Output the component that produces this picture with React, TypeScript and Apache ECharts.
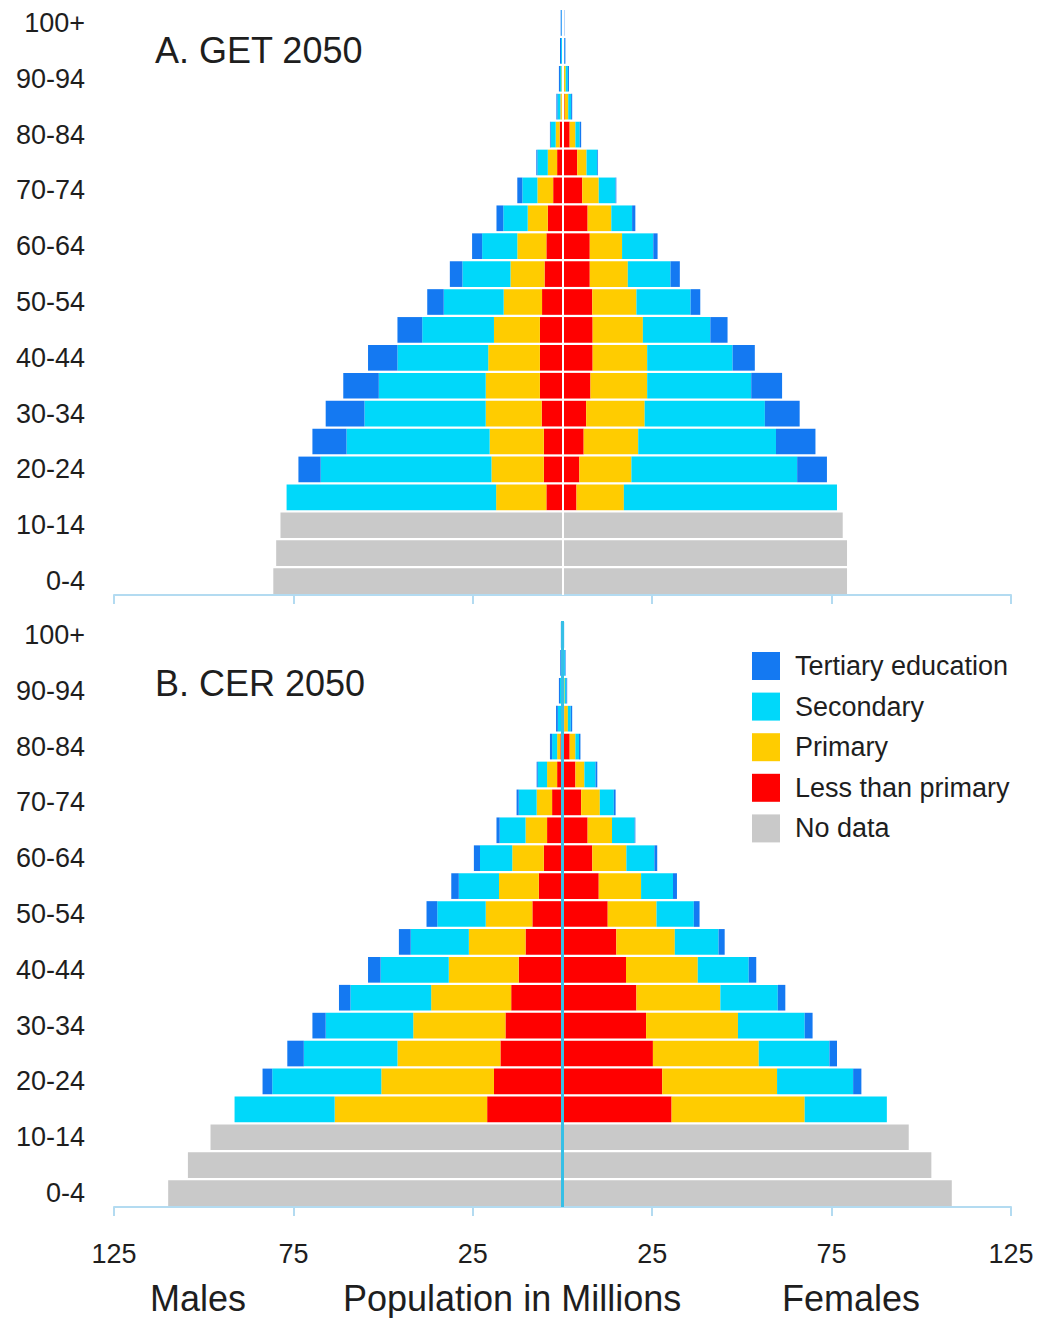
import React, { useEffect, useRef } from 'react';
import * as echarts from 'echarts';

// Age groups, bottom to top
const ages = ['0-4', '5-9', '10-14', '15-19', '20-24', '25-29', '30-34', '35-39', '40-44', '45-49', '50-54', '55-59', '60-64', '65-69', '70-74', '75-79', '80-84', '85-89', '90-94', '95-99', '100+'];

const tickValues = [-125, -75, -25, 25, 75, 125];

// A. GET 2050 — Males (millions)
const getMaleLess = [0, 0, 0, 4.5, 5.2, 5.2, 5.8, 6.3, 6.3, 6.3, 5.7, 5.0, 4.5, 4.1, 2.6, 1.5, 0.8, 0.2, 0.1, 0, 0];
const getMalePrimary = [0, 0, 0, 14.0, 14.6, 15.1, 15.6, 15.1, 14.4, 12.8, 10.7, 9.5, 8.1, 5.6, 4.4, 2.6, 1.1, 0.4, 0.2, 0.1, 0];
const getMaleSecondary = [0, 0, 0, 58.4, 47.6, 39.9, 33.8, 29.8, 25.3, 20.0, 16.7, 13.4, 9.8, 6.8, 4.2, 2.9, 1.4, 0.8, 0.4, 0.3, 0.25];
const getMaleTertiary = [0, 0, 0, 0, 6.2, 9.5, 10.8, 9.9, 8.2, 6.9, 4.6, 3.5, 2.8, 1.9, 1.4, 0.3, 0.2, 0.3, 0.3, 0.3, 0.25];
const getMaleNoData = [80.6, 79.8, 78.6, 0, 0, 0, 0, 0, 0, 0, 0, 0, 0, 0, 0, 0, 0, 0, 0, 0, 0];

// A. GET 2050 — Females (millions)
const getFemaleLess = [0, 0, 0, 3.9, 4.7, 5.9, 6.6, 7.8, 8.4, 8.4, 8.3, 7.6, 7.6, 7.0, 5.5, 4.1, 2.0, 0.6, 0.3, 0.1, 0];
const getFemalePrimary = [0, 0, 0, 13.2, 14.5, 15.2, 16.3, 15.8, 15.2, 14.0, 12.3, 10.6, 9.0, 6.6, 4.6, 2.6, 1.6, 1.0, 0.6, 0.1, 0];
const getFemaleSecondary = [0, 0, 0, 59.4, 46.2, 38.4, 33.5, 29.0, 23.8, 18.8, 15.1, 11.9, 8.7, 5.8, 4.7, 3.0, 1.2, 0.8, 0.6, 0.3, 0.25];
const getFemaleTertiary = [0, 0, 0, 0, 8.3, 11.0, 9.7, 8.6, 6.2, 4.8, 2.7, 2.6, 1.2, 0.9, 0.2, 0.2, 0.4, 0.3, 0.3, 0.3, 0.25];
const getFemaleNoData = [79.3, 79.3, 78.1, 0, 0, 0, 0, 0, 0, 0, 0, 0, 0, 0, 0, 0, 0, 0, 0, 0, 0];

// B. CER 2050 — Males (millions)
const cerMaleLess = [0, 0, 0, 21.0, 19.1, 17.3, 15.9, 14.3, 12.2, 10.3, 8.4, 6.6, 5.2, 4.3, 2.9, 1.5, 0.6, 0.1, 0.05, 0, 0];
const cerMalePrimary = [0, 0, 0, 42.5, 31.4, 28.7, 25.7, 22.3, 19.5, 15.8, 13.0, 11.1, 8.8, 6.0, 4.3, 2.8, 0.9, 0.3, 0.15, 0.1, 0];
const cerMaleSecondary = [0, 0, 0, 27.9, 30.4, 26.1, 24.4, 22.5, 19.0, 16.2, 13.5, 11.2, 9.0, 7.2, 5.0, 2.6, 1.4, 0.9, 0.5, 0.35, 0.3];
const cerMaleTertiary = [0, 0, 0, 0, 2.7, 4.6, 3.7, 3.2, 3.5, 3.3, 3.0, 2.1, 1.7, 0.9, 0.6, 0.3, 0.6, 0.5, 0.3, 0.2, 0.15];
const cerMaleNoData = [109.9, 104.4, 98.1, 0, 0, 0, 0, 0, 0, 0, 0, 0, 0, 0, 0, 0, 0, 0, 0, 0, 0];

// B. CER 2050 — Females (millions)
const cerFemaleLess = [0, 0, 0, 30.4, 27.8, 25.2, 23.3, 20.6, 17.7, 15.0, 12.6, 10.1, 8.3, 7.0, 5.2, 3.6, 2.0, 0.5, 0.2, 0.1, 0];
const cerFemalePrimary = [0, 0, 0, 37.1, 32.0, 29.5, 25.6, 23.4, 20.0, 16.3, 13.6, 11.8, 9.5, 6.8, 5.2, 2.5, 1.6, 1.0, 0.4, 0.2, 0];
const cerFemaleSecondary = [0, 0, 0, 22.9, 21.2, 19.7, 18.6, 16.0, 14.2, 12.2, 10.4, 8.9, 7.8, 6.3, 3.9, 3.1, 1.0, 0.8, 0.5, 0.35, 0.3];
const cerFemaleTertiary = [0, 0, 0, 0, 2.3, 2.1, 2.2, 2.1, 2.1, 1.7, 1.6, 1.1, 0.8, 0.2, 0.5, 0.5, 0.4, 0.4, 0.2, 0.2, 0.15];
const cerFemaleNoData = [108.5, 102.8, 96.5, 0, 0, 0, 0, 0, 0, 0, 0, 0, 0, 0, 0, 0, 0, 0, 0, 0, 0];

const levelNames = ['Less than primary', 'Primary', 'Secondary', 'Tertiary education', 'No data'];
const levelColors = ['#FF0000', '#FFCC00', '#00D8FA', '#1479F2', '#C9C9C9'];
const legendOrder = ['Tertiary education', 'Secondary', 'Primary', 'Less than primary', 'No data'];

const FONT = 'Liberation Sans, Arial, Helvetica, sans-serif';
const TEXT = '#1e1e1e';
const AXIS = '#b3dbf1';

function sideSeries(grid: number, stack: string, arrays: number[][], sign: number, mark?: { color: string; width: number }) {
  return arrays.map((arr, i) => {
    const s: any = {
      type: 'bar',
      name: levelNames[i],
      xAxisIndex: grid,
      yAxisIndex: grid,
      stack,
      stackStrategy: 'samesign',
      barCategoryGap: '8%',
      itemStyle: { color: levelColors[i] },
      emphasis: { disabled: true },
      data: arr.map((v) => sign * v),
    };
    if (mark && i === arrays.length - 1) {
      s.markLine = {
        silent: true,
        symbol: ['none', 'none'],
        label: { show: false },
        z: 10,
        lineStyle: { color: mark.color, width: mark.width, type: 'solid' },
        data: [{ xAxis: 0 }],
      };
    }
    return s;
  });
}

function xAxisFor(grid: number, showLabels: boolean) {
  return {
    gridIndex: grid,
    type: 'value',
    min: -125,
    max: 125,
    interval: 25,
    axisLine: { show: true, lineStyle: { color: AXIS, width: 2 } },
    axisTick: { show: true, customValues: tickValues, length: 9, lineStyle: { color: AXIS, width: 2 } },
    axisLabel: {
      show: showLabels,
      customValues: tickValues,
      formatter: (v: number) => String(Math.abs(v)),
      fontSize: 27,
      fontFamily: FONT,
      color: TEXT,
      margin: 33,
    },
    splitLine: { show: false },
  };
}

function yAxisFor(grid: number) {
  return {
    gridIndex: grid,
    type: 'category',
    data: ages,
    axisLine: { show: false },
    axisTick: { show: false },
    axisLabel: { interval: 1, fontSize: 27, fontFamily: FONT, color: TEXT, margin: 29 },
    splitLine: { show: false },
  };
}

export default function App() {
  const ref = useRef<HTMLDivElement>(null);
  useEffect(() => {
    if (!ref.current) return;
    const chart = echarts.init(ref.current, null, { renderer: 'svg' });
    const option: any = {
      animation: false,
      backgroundColor: '#ffffff',
      title: [
        { text: 'A. GET 2050', left: 155, top: 32, padding: 0, textStyle: { fontSize: 36, fontWeight: 'normal', fontFamily: FONT, color: TEXT } },
        { text: 'B. CER 2050', left: 155, top: 665, padding: 0, textStyle: { fontSize: 36, fontWeight: 'normal', fontFamily: FONT, color: TEXT } },
      ],
      legend: {
        data: legendOrder,
        orient: 'vertical',
        left: 752,
        top: 652,
        padding: 0,
        itemWidth: 28,
        itemHeight: 28,
        itemGap: 12.6,
        icon: 'rect',
        selectedMode: false,
        textStyle: { fontSize: 27, fontFamily: FONT, color: TEXT, padding: [0, 0, 0, 10] },
      },
      grid: [
        { left: 114, right: 29, top: 9, height: 586 },
        { left: 114, right: 29, top: 621, height: 586 },
      ],
      xAxis: [xAxisFor(0, false), xAxisFor(1, true)],
      yAxis: [yAxisFor(0), yAxisFor(1)],
      graphic: [
        { type: 'text', left: 150, top: 1280, style: { text: 'Males', fontSize: 36, fontFamily: FONT, fill: TEXT } },
        { type: 'text', left: 343, top: 1280, style: { text: 'Population in Millions', fontSize: 36, fontFamily: FONT, fill: TEXT } },
        { type: 'text', left: 782, top: 1280, style: { text: 'Females', fontSize: 36, fontFamily: FONT, fill: TEXT } },
      ],
      series: [
        ...sideSeries(0, 'get', [getMaleLess, getMalePrimary, getMaleSecondary, getMaleTertiary, getMaleNoData], -1),
        ...sideSeries(0, 'get', [getFemaleLess, getFemalePrimary, getFemaleSecondary, getFemaleTertiary, getFemaleNoData], 1, { color: '#ffffff', width: 2 }),
        ...sideSeries(1, 'cer', [cerMaleLess, cerMalePrimary, cerMaleSecondary, cerMaleTertiary, cerMaleNoData], -1),
        ...sideSeries(1, 'cer', [cerFemaleLess, cerFemalePrimary, cerFemaleSecondary, cerFemaleTertiary, cerFemaleNoData], 1, { color: '#36BFE6', width: 3 }),
      ],
    };
    chart.setOption(option);
    return () => chart.dispose();
  }, []);
  return <div ref={ref} style={{ position: 'absolute', left: 0, top: 0, width: 1040, height: 1318, background: '#fff' }} />;
}
